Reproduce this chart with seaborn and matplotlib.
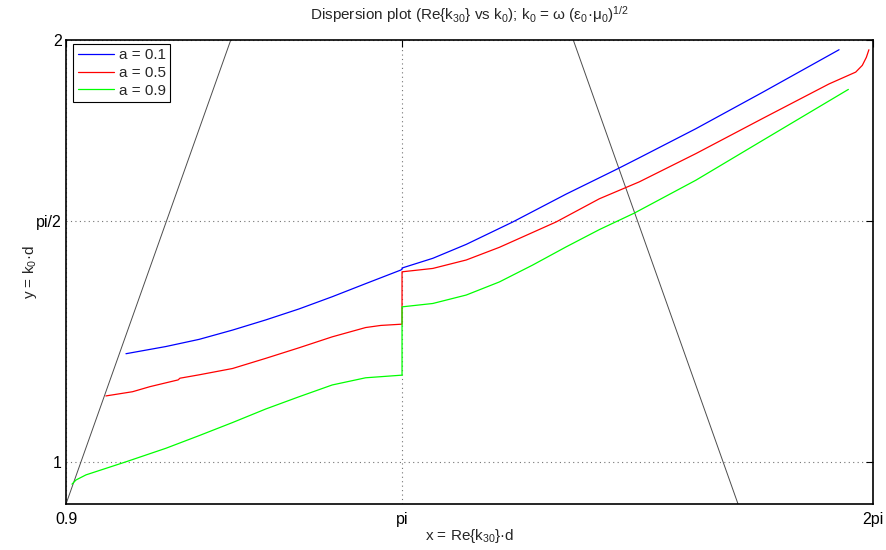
import numpy as np
import pandas as pd
import matplotlib
matplotlib.use("Agg")
import matplotlib.pyplot as plt
import seaborn as sns

# Dispersion curves: normalised wavenumber Re{k30}*d vs k0*d for three values of a
blue_x = [1.300, 1.566, 1.788, 2.011, 2.232, 2.454, 2.676, 2.899, 3.132, np.pi, np.pi,
          3.347, 3.570, 3.880, 4.236, 4.580, 4.724, 5.102, 5.546, 6.057]
blue_y = [1.256, 1.273, 1.290, 1.312, 1.336, 1.362, 1.391, 1.422, 1.454, 1.456, 1.459,
          1.482, 1.515, 1.568, 1.634, 1.694, 1.720, 1.789, 1.875, 1.976]

red_x = [1.166, 1.344, 1.460, 1.648, 1.660, 1.788, 2.011, 2.232, 2.454, 2.676, 2.899,
         3.000, np.pi, np.pi, 3.347, 3.570, 3.791, 4.169, 4.458, 4.724, 5.102, 5.546,
         5.990, 6.168, 6.212, 6.239, 6.256]
red_y = [1.156, 1.166, 1.178, 1.194, 1.198, 1.206, 1.221, 1.245, 1.270, 1.296, 1.318,
         1.323, 1.326, 1.450, 1.458, 1.478, 1.508, 1.568, 1.623, 1.663, 1.730, 1.813,
         1.895, 1.923, 1.939, 1.958, 1.976]

green_x = [0.940, 0.967, 1.033, 1.300, 1.566, 1.788, 2.011, 2.232, 2.454, 2.676, 2.899,
           3.132, np.pi, np.pi, 3.347, 3.570, 3.791, 4.013, 4.236, 4.458, 4.691, 5.102,
           5.546, 6.119]
green_y = [0.947, 0.957, 0.969, 1.000, 1.032, 1.062, 1.093, 1.125, 1.154, 1.182, 1.199,
           1.205, 1.205, 1.367, 1.375, 1.395, 1.426, 1.466, 1.509, 1.550, 1.589, 1.667,
           1.761, 1.882]

series_labels = ["a = 0.1", "a = 0.5", "a = 0.9"]
series_colors = ["#0000ff", "#ff0000", "#00ff00"]

# Light lines (endpoints)
light_left_x = [0.9, 2.0]
light_left_y = [0.9, 2.0]
light_right_x = [4.283, 5.383]
light_right_y = [2.0, 0.9]

x_ticks = [0.9, np.pi, 2 * np.pi]
x_ticklabels = ["0.9", "pi", "2pi"]
y_ticks = [1.0, np.pi / 2, 2.0]
y_ticklabels = ["1", "pi/2", "2"]

frames = []
for lab, xs, ys in zip(series_labels, [blue_x, red_x, green_x], [blue_y, red_y, green_y]):
    frames.append(pd.DataFrame({"x": xs, "y": ys, "a": lab}))
df = pd.concat(frames, ignore_index=True)

sns.set_theme(style="white")
plt.rcParams["font.family"] = ["Liberation Sans", "DejaVu Sans"]
plt.rcParams["mathtext.fontset"] = "custom"
plt.rcParams["mathtext.rm"] = "Liberation Sans"
plt.rcParams["mathtext.it"] = "Liberation Sans"
plt.rcParams["mathtext.default"] = "regular"

fig = plt.figure(figsize=(8.86, 5.5), dpi=100)
left, right, top, bottom = 0.0745, 0.9853, 0.928, 0.0836
ax = fig.add_axes([left, bottom, right - left, top - bottom])
ax_w_px = (right - left) * 886
ax_h_px = (top - bottom) * 550

# Grid lines at the ticks
for xv in x_ticks:
    ax.axvline(xv, color="0.45", ls=(0, (1, 3)), lw=0.8, zorder=0)
for yv in y_ticks:
    ax.axhline(yv, color="0.45", ls=(0, (1, 3)), lw=0.8, zorder=0)

ax.plot(light_left_x, light_left_y, color="0.3", lw=0.7, zorder=1)
ax.plot(light_right_x, light_right_y, color="0.3", lw=0.7, zorder=1)

sns.lineplot(data=df, x="x", y="y", hue="a", palette=series_colors, sort=False,
             estimator=None, units="a", lw=0.9, ax=ax, zorder=3)

ax.set_xlim(0.9, 2 * np.pi)
ax.set_ylim(0.9, 2.0)
ax.set_xticks(x_ticks)
ax.set_xticklabels(x_ticklabels)
ax.set_yticks(y_ticks)
ax.set_yticklabels(y_ticklabels)
ax.tick_params(direction="in", length=5, width=0.8, top=True, right=True,
               labelsize=11.5, colors="black")
ax.tick_params(axis="y", pad=3)
ax.tick_params(axis="x", pad=6)
for s in ax.spines.values():
    s.set_visible(True)
    s.set_color("black")
    s.set_linewidth(1.2)

ax.set_xlabel("x = Re{k$_{30}$}·d", fontsize=11, va="center")
ax.xaxis.set_label_coords(0.5, -(536 - 504) / ax_h_px)
ax.set_ylabel("y = k$_0$·d", fontsize=11, va="center")
ax.yaxis.set_label_coords(-(66 - 30) / ax_w_px, 0.5)
ax.set_title("Dispersion plot (Re{k$_{30}$} vs k$_0$); k$_0$ = ω (ε$_0$·μ$_0$)$^{1/2}$",
             fontsize=11, pad=14)

leg = ax.legend(loc="upper left", bbox_to_anchor=(7 / ax_w_px, 1 - 4 / ax_h_px),
                fontsize=11, frameon=True, fancybox=False,
                edgecolor="black", framealpha=1, borderaxespad=0,
                handlelength=2.4, handletextpad=0.3, borderpad=0.3, labelspacing=0.25)
leg.get_frame().set_linewidth(0.8)
leg.set_title(None)

fig.savefig("out.png", dpi=100)
